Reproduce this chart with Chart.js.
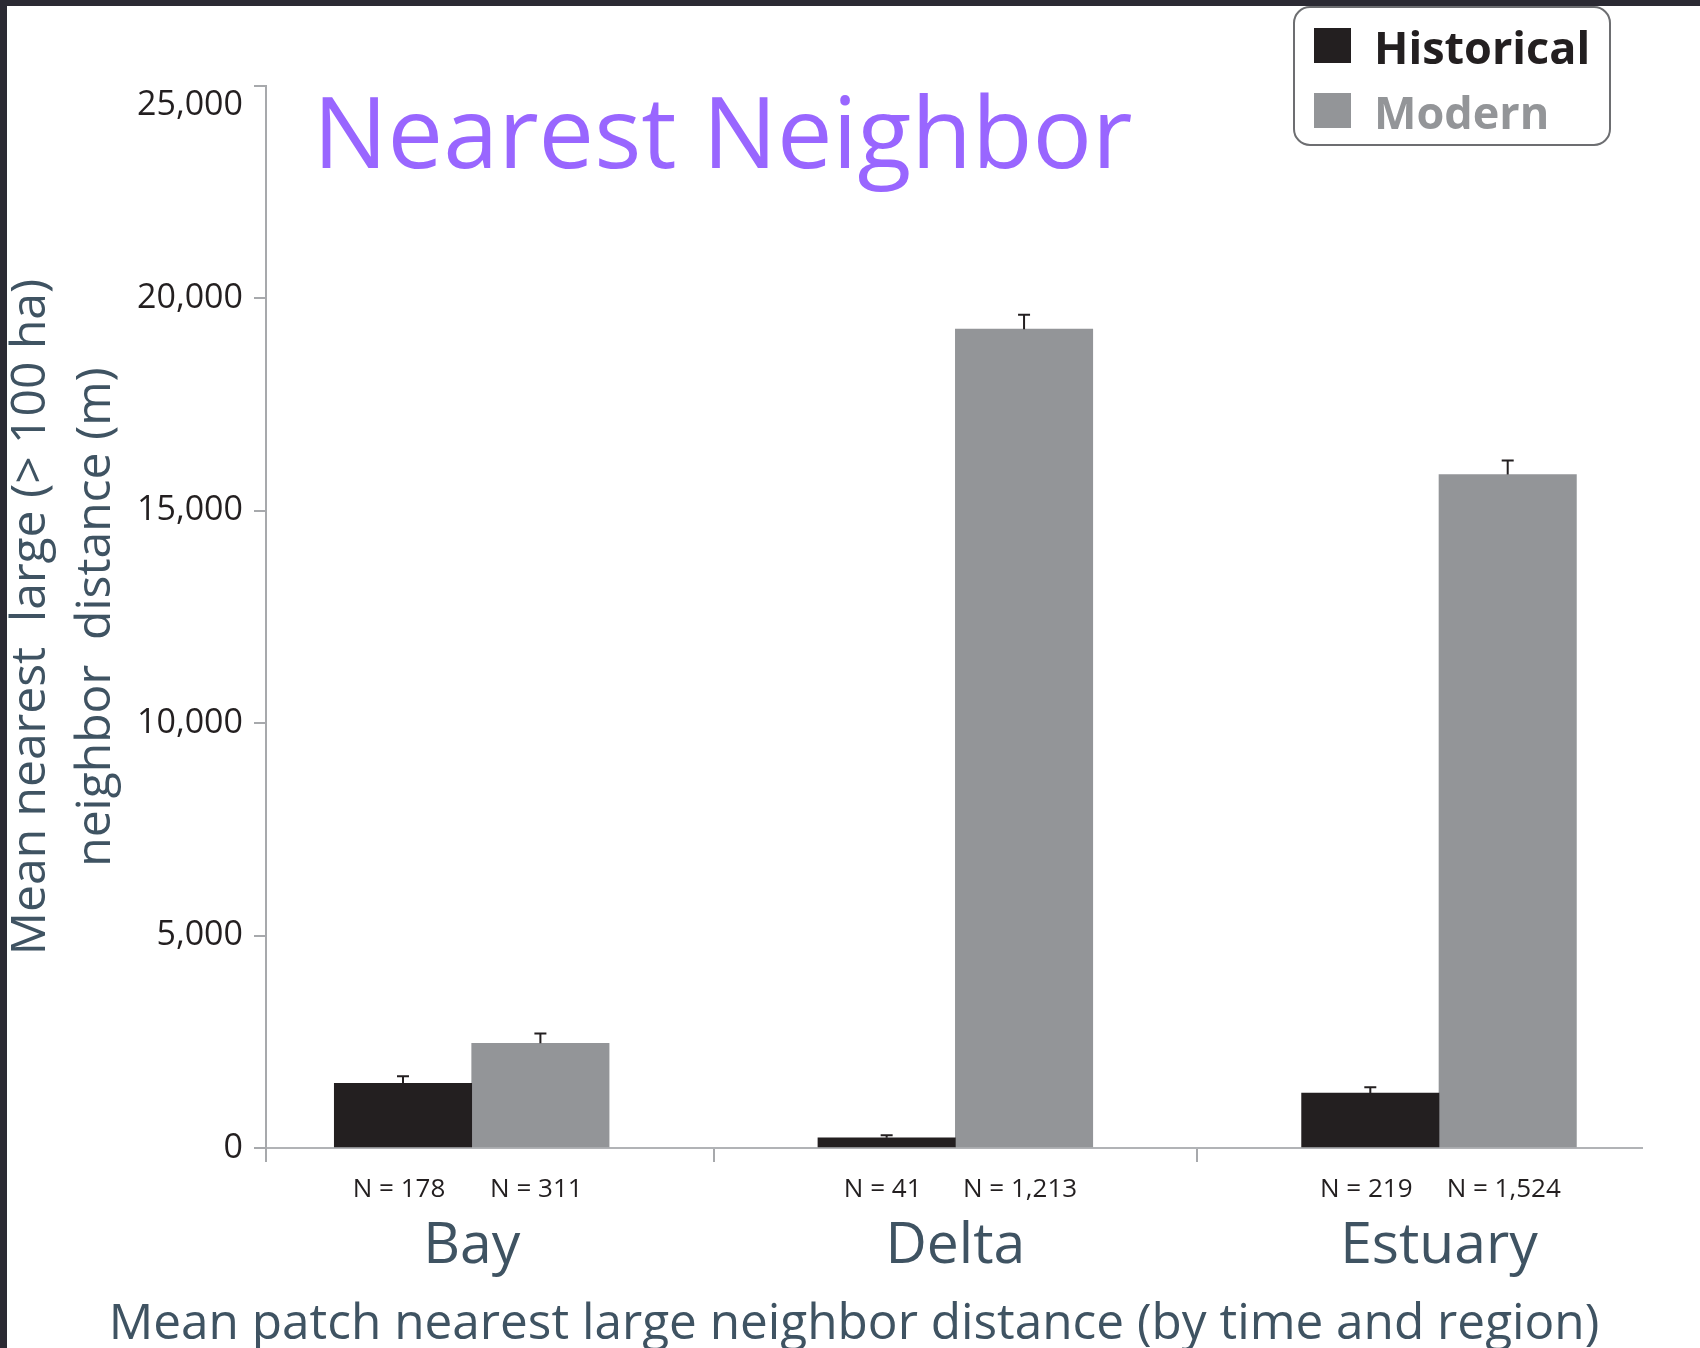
<!DOCTYPE html>
<html>
<head>
<meta charset="utf-8">
<title>Nearest Neighbor</title>
<script src="https://cdn.jsdelivr.net/npm/chart.js@4.4.1/dist/chart.umd.min.js"></script>
<style>
  html, body { margin: 0; padding: 0; width: 1700px; height: 1348px; overflow: hidden; background: #2b2a33; }
  #frame { position: absolute; left: 7px; top: 6px; width: 1693px; height: 1342px; background: #ffffff; }
  canvas { display: block; }
</style>
</head>
<body>
<div id="frame"><canvas id="chart" width="1693" height="1342"></canvas></div>
<script>
// Regions and time periods
const categories = ['Bay', 'Delta', 'Estuary'];
const seriesNames = ['Historical', 'Modern'];

// Mean nearest large-neighbor distance (m) and standard error per region
const historicalMeans = [1525, 240, 1290];
const historicalErrors = [165, 60, 140];
const modernMeans = [2466, 19275, 15854];
const modernErrors = [230, 340, 330];

// Number of patches behind each mean
const historicalN = [178, 41, 219];
const modernN = [311, 1213, 1524];

// Value axis ticks
const yTickValues = [0, 5000, 10000, 15000, 20000, 25000];

const chartTitle = 'Nearest Neighbor';
const yTitle = ['Mean nearest  large (> 100 ha)', 'neighbor  distance (m)'];
const xTitle = 'Mean patch nearest large neighbor distance (by time and region)';

const FONT = "'Open Sans', 'Noto Sans', sans-serif";
const INK = '#231f20';
const GREY = '#939598';
const SLATE = '#3f5362';
const AXIS = '#a7a9ac';
const PURPLE = '#9966ff';

Chart.defaults.font.family = FONT;

const fmt = v => Number(v).toLocaleString('en-US');

// Error bars (upper whisker with cap) above each bar
const errorBars = {
  id: 'errorBars',
  afterDatasetsDraw(chart) {
    const { ctx } = chart;
    const y = chart.scales.y;
    ctx.save();
    ctx.strokeStyle = INK;
    ctx.lineWidth = 2;
    chart.data.datasets.forEach((ds, d) => {
      chart.getDatasetMeta(d).data.forEach((bar, i) => {
        const top = y.getPixelForValue(ds.data[i].y + ds.errors[i]);
        ctx.beginPath();
        ctx.moveTo(bar.x, bar.y);
        ctx.lineTo(bar.x, top);
        ctx.moveTo(bar.x - 6, top);
        ctx.lineTo(bar.x + 6, top);
        ctx.stroke();
      });
    });
    ctx.restore();
  }
};

// Title, legend box, sample sizes and bottom caption
const annotations = {
  id: 'annotations',
  afterDraw(chart) {
    const { ctx, chartArea } = chart;
    ctx.save();

    // Chart title
    ctx.fillStyle = PURPLE;
    ctx.font = `99px ${FONT}`;
    ctx.textAlign = 'left';
    ctx.textBaseline = 'alphabetic';
    ctx.fillText(chartTitle, 306, 162);

    // Sample size under every bar
    ctx.fillStyle = INK;
    ctx.font = `26px ${FONT}`;
    ctx.textAlign = 'center';
    ctx.textBaseline = 'middle';
    chart.data.datasets.forEach((ds, d) => {
      chart.getDatasetMeta(d).data.forEach((bar, i) => {
        ctx.fillText('N = ' + fmt(ds.counts[i]), bar.x - 4, chartArea.bottom + 42);
      });
    });

    // Bottom caption
    ctx.fillStyle = SLATE;
    ctx.font = `49.5px ${FONT}`;
    ctx.fillText(xTitle, 847, 1319);

    // Legend
    const lx = 1287, ly = 1, lw = 316, lh = 138;
    ctx.beginPath();
    ctx.roundRect(lx, ly, lw, lh, 16);
    ctx.fillStyle = '#ffffff';
    ctx.fill();
    ctx.strokeStyle = '#6d6e71';
    ctx.lineWidth = 2;
    ctx.stroke();
    ctx.textAlign = 'left';
    ctx.textBaseline = 'alphabetic';
    ctx.font = `bold 45px ${FONT}`;
    chart.data.datasets.forEach((ds, d) => {
      const rowY = ly + 21 + d * 65;
      ctx.fillStyle = ds.backgroundColor;
      ctx.fillRect(lx + 20, rowY, 37, 35);
      ctx.fillText(ds.label, lx + 80, rowY + 36);
    });

    ctx.restore();
  }
};

const datasets = [
  {
    label: seriesNames[0],
    data: categories.map((c, i) => ({ x: i, y: historicalMeans[i] })),
    errors: historicalErrors,
    counts: historicalN,
    backgroundColor: INK
  },
  {
    label: seriesNames[1],
    data: categories.map((c, i) => ({ x: i, y: modernMeans[i] })),
    errors: modernErrors,
    counts: modernN,
    backgroundColor: GREY
  }
];

// Category centres sit at 0, 1, 2; separator ticks between neighbouring regions
const separatorTicks = categories.slice(1).map((c, i) => i + 0.5);
const X_MIN = -0.4253, X_MAX = 2.4197;

new Chart(document.getElementById('chart'), {
  type: 'bar',
  data: { datasets },
  options: {
    responsive: false,
    animation: false,
    devicePixelRatio: 1,
    barThickness: 137.4,
    layout: { padding: { top: 80, right: 58, left: 0, bottom: 0 } },
    plugins: {
      legend: { display: false },
      tooltip: { enabled: false },
      title: { display: false }
    },
    scales: {
      x: {
        type: 'linear',
        min: X_MIN,
        max: X_MAX,
        offset: false,
        afterBuildTicks(scale) {
          const vals = [X_MIN, ...categories.map((c, i) => i), ...separatorTicks].sort((a, b) => a - b);
          scale.ticks = vals.map(v => ({ value: v }));
        },
        afterFit(scale) { scale.height = 200; },
        border: { display: true, color: '#b1b3b6', width: 2 },
        grid: {
          offset: false,
          drawOnChartArea: false,
          drawTicks: true,
          tickLength: 14,
          lineWidth: 2,
          tickColor: ctx => (ctx.tick && Number.isInteger(ctx.tick.value)) ? 'rgba(0,0,0,0)' : AXIS
        },
        ticks: {
          autoSkip: false,
          maxRotation: 0,
          padding: 51,
          color: SLATE,
          font: { family: FONT, size: 57, lineHeight: 1.2 },
          callback: v => Number.isInteger(v) ? categories[v] : ''
        }
      },
      y: {
        min: 0,
        max: 25000,
        afterBuildTicks(scale) {
          scale.ticks = yTickValues.map(v => ({ value: v }));
        },
        afterFit(scale) { scale.width = 259; },
        border: { display: true, color: AXIS, width: 2 },
        grid: {
          drawOnChartArea: false,
          drawTicks: true,
          tickLength: 12,
          lineWidth: 2,
          tickColor: AXIS
        },
        ticks: {
          padding: 11,
          color: INK,
          // the top label sits a little below its tick
          font: ctx => ({ family: FONT, size: 34, lineHeight: ctx.index === yTickValues.length - 1 ? 1.15 : 1.2 }),
          callback: (v, i) => i === yTickValues.length - 1 ? ['', fmt(v)] : fmt(v)
        },
        title: {
          display: true,
          text: yTitle,
          color: SLATE,
          font: { family: FONT, size: 48, lineHeight: 1.37 },
          padding: { top: -9, bottom: 0 }
        }
      }
    }
  },
  plugins: [errorBars, annotations]
});
</script>
</body>
</html>
